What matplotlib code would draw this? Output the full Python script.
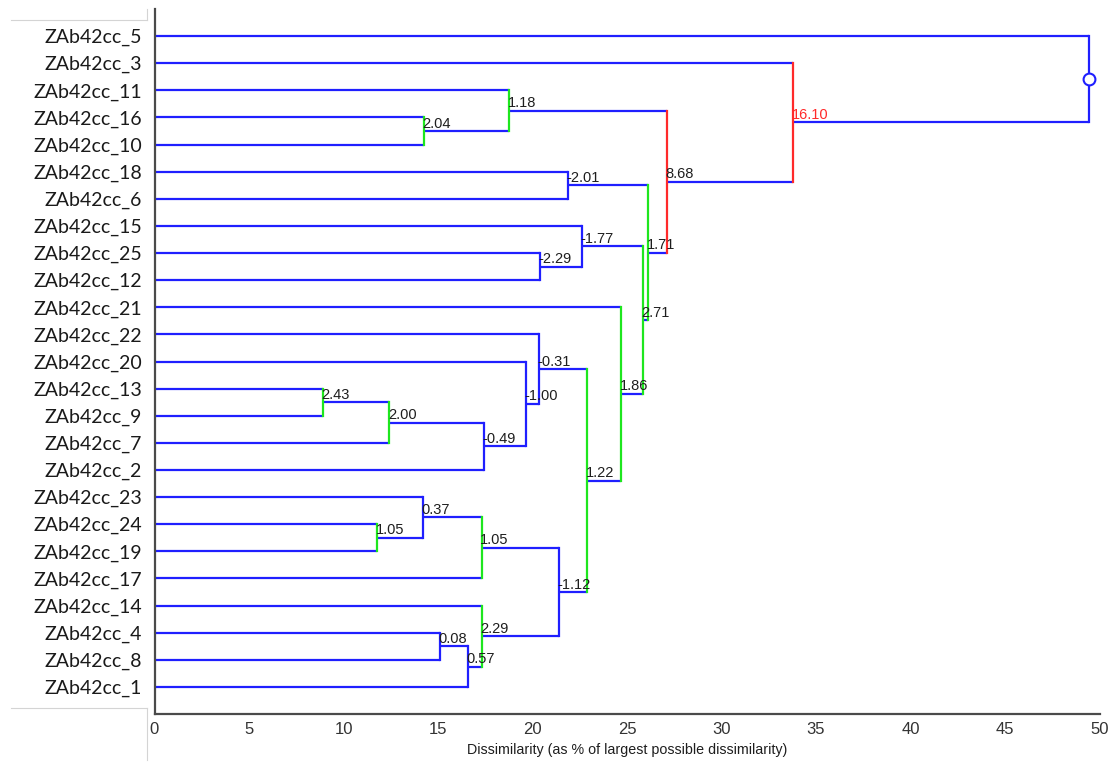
import matplotlib
matplotlib.use("Agg")
import matplotlib.pyplot as plt
from matplotlib.lines import Line2D

# leaf order, top to bottom
leaves = ["ZAb42cc_5", "ZAb42cc_3", "ZAb42cc_11", "ZAb42cc_16", "ZAb42cc_10",
          "ZAb42cc_18", "ZAb42cc_6", "ZAb42cc_15", "ZAb42cc_25", "ZAb42cc_12",
          "ZAb42cc_21", "ZAb42cc_22", "ZAb42cc_20", "ZAb42cc_13", "ZAb42cc_9",
          "ZAb42cc_7", "ZAb42cc_2", "ZAb42cc_23", "ZAb42cc_24", "ZAb42cc_19",
          "ZAb42cc_17", "ZAb42cc_14", "ZAb42cc_4", "ZAb42cc_8", "ZAb42cc_1"]

# merges in order; a child is a leaf name or the index of an earlier merge
merge_left = ["ZAb42cc_16", "ZAb42cc_11", "ZAb42cc_18", "ZAb42cc_25", "ZAb42cc_15",
              "ZAb42cc_13", 5, 6, "ZAb42cc_20", "ZAb42cc_22",
              "ZAb42cc_24", "ZAb42cc_23", 11, "ZAb42cc_4", 13,
              "ZAb42cc_14", 12, 9, "ZAb42cc_21", 4,
              2, 1, "ZAb42cc_3", "ZAb42cc_5"]
merge_right = ["ZAb42cc_10", 0, "ZAb42cc_6", "ZAb42cc_12", 3,
               "ZAb42cc_9", "ZAb42cc_7", "ZAb42cc_2", 7, 8,
               "ZAb42cc_19", 10, "ZAb42cc_17", "ZAb42cc_8", "ZAb42cc_1",
               14, 15, 16, 17, 18,
               19, 20, 21, 22]
merge_height = [14.26, 18.77, 21.88, 20.40, 22.60,
                8.90, 12.42, 17.43, 19.66, 20.33,
                11.79, 14.19, 17.31, 15.11, 16.60,
                17.31, 21.39, 22.90, 24.68, 25.83,
                26.10, 27.10, 33.80, 49.46]
merge_label = ["2.04", "1.18", "-2.01", "-2.29", "-1.77",
               "2.43", "2.00", "-0.49", "-1.00", "-0.31",
               "1.05", "0.37", "1.05", "0.08", "0.57",
               "2.29", "-1.12", "1.22", "1.86", "2.71",
               "1.71", "8.68", "16.10", ""]
x_ticks = [0, 5, 10, 15, 20, 25, 30, 35, 40, 45, 50]

BLUE = "#1f1fff"
GREEN = "#1ee61e"
RED = "#ff2a2a"
ARIAL = ["Liberation Sans", "DejaVu Sans"]


def link_color(label):
    if not label:
        return BLUE
    v = float(label)
    if v > 5:
        return RED
    if v >= 1:
        return GREEN
    return BLUE


fig = plt.figure(figsize=(11.17, 7.63), dpi=100)
ax = fig.add_axes([154.5 / 1117, 49 / 763, 945 / 1117, 705 / 763])

leaf_y = {name: i for i, name in enumerate(leaves)}
node_x, node_y = [], []


def pos(child):
    if isinstance(child, str):
        return 0.0, leaf_y[child]
    return node_x[child], node_y[child]


lw = 1.6
for k in range(len(merge_height)):
    h = merge_height[k]
    xa, ya = pos(merge_left[k])
    xb, yb = pos(merge_right[k])
    # horizontal legs from each child to this merge
    ax.plot([xa, h], [ya, ya], color=BLUE, lw=lw, solid_capstyle="butt", zorder=2)
    ax.plot([xb, h], [yb, yb], color=BLUE, lw=lw, solid_capstyle="butt", zorder=2)
    ax.plot([h, h], [ya, yb], color=link_color(merge_label[k]), lw=lw,
            solid_capstyle="projecting", zorder=3)
    node_x.append(h)
    node_y.append((ya + yb) / 2)
    if merge_label[k]:
        tcol = RED if float(merge_label[k]) > 10 else "#1e1e1e"
        ax.annotate(merge_label[k], (h, node_y[-1]), xytext=(-1, 2.5),
                    textcoords="offset points", ha="left", va="baseline",
                    fontsize=10.5, family=ARIAL, color=tcol, zorder=4)

# open circle marking the root
ax.plot([node_x[-1]], [node_y[-1]], marker="o", ms=8.5, mfc="white",
        mec=BLUE, mew=1.5, zorder=5)

ax.set_xlim(0, 50)
ax.set_ylim(25.0, -1.0)
ax.set_xticks(x_ticks)
ax.set_xticklabels([str(t) for t in x_ticks], family=ARIAL, fontsize=12,
                   color="#333333")
ax.set_yticks(range(len(leaves)))
ax.set_yticklabels(leaves, family=["Lato", "DejaVu Sans"], fontsize=14,
                   color="#1a1a1a")
ax.tick_params(axis="y", length=0, pad=9)
ax.tick_params(axis="x", length=0, pad=6)
ax.set_xlabel("Dissimilarity (as % of largest possible dissimilarity)",
              family=ARIAL, fontsize=10.3, color="#1e1e1e", labelpad=4)

for side in ("top", "right"):
    ax.spines[side].set_visible(False)
for side in ("left", "bottom"):
    ax.spines[side].set_color("#4a4a4a")
    ax.spines[side].set_linewidth(1.6)

# faint frame lines around the label column
H = 763.0
W = 1117.0
frame = [((11, 147), (20, 20)), ((147, 147), (9, 20)),
         ((11, 147), (708, 708)), ((147, 147), (708, 760))]
for xs, ys in frame:
    fig.add_artist(Line2D([x / W for x in xs], [1 - y / H for y in ys],
                          transform=fig.transFigure, color="#d4d4d4", lw=0.8))

fig.savefig("out.png", dpi=100)
